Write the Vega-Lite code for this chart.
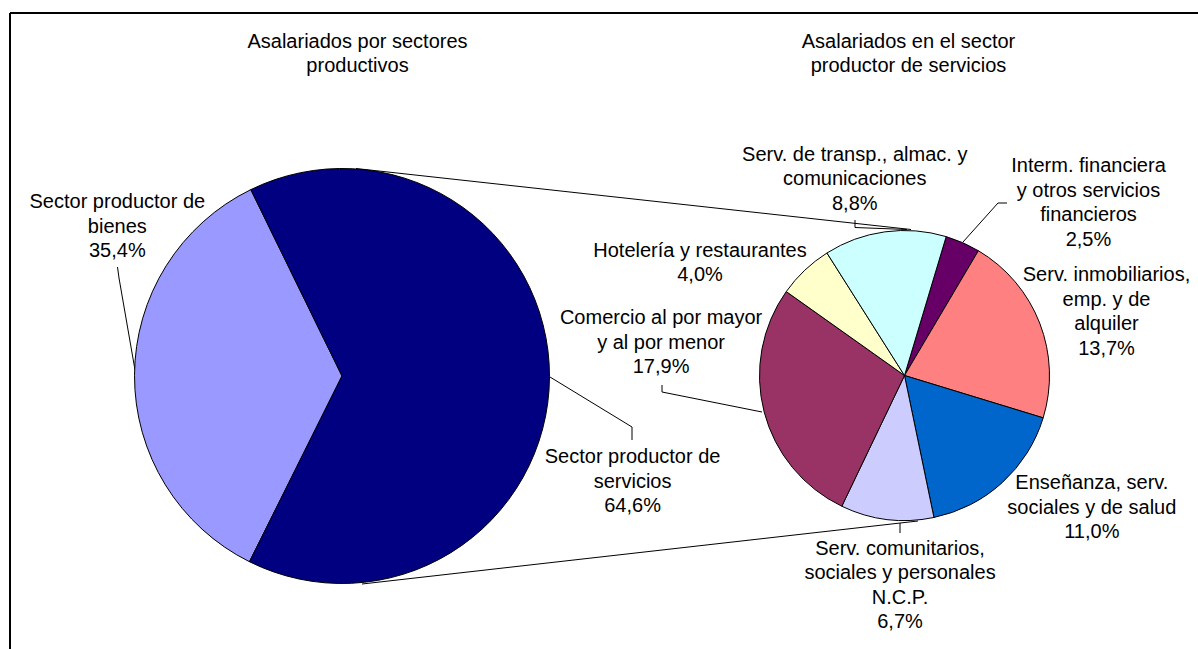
{
  "$schema": "https://vega.github.io/schema/vega-lite/v6.json",
  "width": 1188,
  "height": 636,
  "autosize": {"type": "none"},
  "padding": {"left": 10, "top": 13, "right": 0, "bottom": 0},
  "background": "#ffffff",
  "config": {
    "view": {"stroke": null},
    "text": {"font": "Liberation Sans", "fontSize": 20, "lineHeight": 24.5, "lineBreak": "\n", "baseline": "middle", "align": "center", "color": "#000000"},
    "arc": {"stroke": "#000000", "strokeWidth": 1},
    "rule": {"color": "#000000", "strokeWidth": 1}
  },
  "datasets": {
    "sectores": [
      {"categoria": "Sector productor de bienes", "etiqueta": "Sector productor de\nbienes\n35,4%", "pct": 35.4, "orden": 1},
      {"categoria": "Sector productor de servicios", "etiqueta": "Sector productor de\nservicios\n64,6%", "pct": 64.6, "orden": 2}
    ],
    "servicios": [
      {"categoria": "Interm. financiera y otros servicios financieros", "etiqueta": "Interm. financiera\ny otros servicios\nfinancieros\n2,5%", "pct": 2.5, "orden": 1},
      {"categoria": "Serv. inmobiliarios, emp. y de alquiler", "etiqueta": "Serv. inmobiliarios,\nemp. y de\nalquiler\n13,7%", "pct": 13.7, "orden": 2},
      {"categoria": "Enseñanza, serv. sociales y de salud", "etiqueta": "Enseñanza, serv.\nsociales y de salud\n11,0%", "pct": 11.0, "orden": 3},
      {"categoria": "Serv. comunitarios, sociales y personales N.C.P.", "etiqueta": "Serv. comunitarios,\nsociales y personales\nN.C.P.\n6,7%", "pct": 6.7, "orden": 4},
      {"categoria": "Comercio al por mayor y al por menor", "etiqueta": "Comercio al por mayor\ny al por menor\n17,9%", "pct": 17.9, "orden": 5},
      {"categoria": "Hotelería y restaurantes", "etiqueta": "Hotelería y restaurantes\n4,0%", "pct": 4.0, "orden": 6},
      {"categoria": "Serv. de transp., almac. y comunicaciones", "etiqueta": "Serv. de transp., almac. y\ncomunicaciones\n8,8%", "pct": 8.8, "orden": 7}
    ]
  },
  "resolve": {"scale": {"theta": "independent"}},
  "layer": [
    {
      "data": {"values": [{}]},
      "mark": {"type": "rule", "strokeWidth": 2},
      "encoding": {"x": {"datum": 0, "type": "quantitative", "scale": {"domain": [0, 1188], "nice": false, "zero": false}, "axis": null}}
    },
    {
      "data": {"values": [{}]},
      "mark": {"type": "rule", "strokeWidth": 2},
      "encoding": {"y": {"datum": 0, "type": "quantitative", "scale": {"domain": [0, 636], "nice": false, "zero": false, "reverse": true}, "axis": null}}
    },
    {"data": {"values": [{}]}, "mark": "rule", "encoding": {"x": {"datum": 346, "type": "quantitative", "scale": {"domain": [0, 1188], "nice": false, "zero": false}, "axis": null}, "y": {"datum": 155.5, "type": "quantitative", "scale": {"domain": [0, 636], "nice": false, "zero": false, "reverse": true}, "axis": null}, "x2": {"datum": 901}, "y2": {"datum": 216.5}}},
    {"data": {"values": [{}]}, "mark": "rule", "encoding": {"x": {"datum": 352, "type": "quantitative", "scale": {"domain": [0, 1188], "nice": false, "zero": false}, "axis": null}, "y": {"datum": 571, "type": "quantitative", "scale": {"domain": [0, 636], "nice": false, "zero": false, "reverse": true}, "axis": null}, "x2": {"datum": 908}, "y2": {"datum": 508}}},
    {"data": {"values": [{}]}, "mark": "rule", "encoding": {"x": {"datum": 107.5, "type": "quantitative", "scale": {"domain": [0, 1188], "nice": false, "zero": false}, "axis": null}, "y": {"datum": 254, "type": "quantitative", "scale": {"domain": [0, 636], "nice": false, "zero": false, "reverse": true}, "axis": null}, "x2": {"datum": 109}, "y2": {"datum": 265}}},
    {"data": {"values": [{}]}, "mark": "rule", "encoding": {"x": {"datum": 109, "type": "quantitative", "scale": {"domain": [0, 1188], "nice": false, "zero": false}, "axis": null}, "y": {"datum": 265, "type": "quantitative", "scale": {"domain": [0, 636], "nice": false, "zero": false, "reverse": true}, "axis": null}, "x2": {"datum": 125}, "y2": {"datum": 357}}},
    {"data": {"values": [{}]}, "mark": "rule", "encoding": {"x": {"datum": 540, "type": "quantitative", "scale": {"domain": [0, 1188], "nice": false, "zero": false}, "axis": null}, "y": {"datum": 364, "type": "quantitative", "scale": {"domain": [0, 636], "nice": false, "zero": false, "reverse": true}, "axis": null}, "x2": {"datum": 622}, "y2": {"datum": 414}}},
    {"data": {"values": [{}]}, "mark": "rule", "encoding": {"x": {"datum": 622, "type": "quantitative", "scale": {"domain": [0, 1188], "nice": false, "zero": false}, "axis": null}, "y": {"datum": 414, "type": "quantitative", "scale": {"domain": [0, 636], "nice": false, "zero": false, "reverse": true}, "axis": null}, "x2": {"datum": 622}, "y2": {"datum": 427}}},
    {"data": {"values": [{}]}, "mark": "rule", "encoding": {"x": {"datum": 652, "type": "quantitative", "scale": {"domain": [0, 1188], "nice": false, "zero": false}, "axis": null}, "y": {"datum": 372, "type": "quantitative", "scale": {"domain": [0, 636], "nice": false, "zero": false, "reverse": true}, "axis": null}, "x2": {"datum": 652}, "y2": {"datum": 379}}},
    {"data": {"values": [{}]}, "mark": "rule", "encoding": {"x": {"datum": 652, "type": "quantitative", "scale": {"domain": [0, 1188], "nice": false, "zero": false}, "axis": null}, "y": {"datum": 379, "type": "quantitative", "scale": {"domain": [0, 636], "nice": false, "zero": false, "reverse": true}, "axis": null}, "x2": {"datum": 752}, "y2": {"datum": 399}}},
    {"data": {"values": [{}]}, "mark": "rule", "encoding": {"x": {"datum": 845, "type": "quantitative", "scale": {"domain": [0, 1188], "nice": false, "zero": false}, "axis": null}, "y": {"datum": 207, "type": "quantitative", "scale": {"domain": [0, 636], "nice": false, "zero": false, "reverse": true}, "axis": null}, "x2": {"datum": 845}, "y2": {"datum": 214.5}}},
    {"data": {"values": [{}]}, "mark": "rule", "encoding": {"x": {"datum": 845, "type": "quantitative", "scale": {"domain": [0, 1188], "nice": false, "zero": false}, "axis": null}, "y": {"datum": 214.5, "type": "quantitative", "scale": {"domain": [0, 636], "nice": false, "zero": false, "reverse": true}, "axis": null}, "x2": {"datum": 897}, "y2": {"datum": 216.5}}},
    {"data": {"values": [{}]}, "mark": "rule", "encoding": {"x": {"datum": 997, "type": "quantitative", "scale": {"domain": [0, 1188], "nice": false, "zero": false}, "axis": null}, "y": {"datum": 190, "type": "quantitative", "scale": {"domain": [0, 636], "nice": false, "zero": false, "reverse": true}, "axis": null}, "x2": {"datum": 988}, "y2": {"datum": 190}}},
    {"data": {"values": [{}]}, "mark": "rule", "encoding": {"x": {"datum": 988, "type": "quantitative", "scale": {"domain": [0, 1188], "nice": false, "zero": false}, "axis": null}, "y": {"datum": 190, "type": "quantitative", "scale": {"domain": [0, 636], "nice": false, "zero": false, "reverse": true}, "axis": null}, "x2": {"datum": 953}, "y2": {"datum": 229}}},
    {"data": {"values": [{}]}, "mark": "rule", "encoding": {"x": {"datum": 890, "type": "quantitative", "scale": {"domain": [0, 1188], "nice": false, "zero": false}, "axis": null}, "y": {"datum": 510, "type": "quantitative", "scale": {"domain": [0, 636], "nice": false, "zero": false, "reverse": true}, "axis": null}, "x2": {"datum": 890}, "y2": {"datum": 520}}},
    {
      "data": {"values": [{}]},
      "mark": {"type": "text", "dy": -12.25},
      "encoding": {
        "x": {"datum": 347.5, "type": "quantitative", "scale": {"domain": [0, 1188], "nice": false, "zero": false}, "axis": null},
        "y": {"datum": 41, "type": "quantitative", "scale": {"domain": [0, 636], "nice": false, "zero": false, "reverse": true}, "axis": null},
        "text": {"value": "Asalariados por sectores\nproductivos"}
      }
    },
    {
      "data": {"values": [{}]},
      "mark": {"type": "text", "dy": -12.25},
      "encoding": {
        "x": {"datum": 898.5, "type": "quantitative", "scale": {"domain": [0, 1188], "nice": false, "zero": false}, "axis": null},
        "y": {"datum": 41, "type": "quantitative", "scale": {"domain": [0, 636], "nice": false, "zero": false, "reverse": true}, "axis": null},
        "text": {"value": "Asalariados en el sector\nproductor de servicios"}
      }
    },
    {
      "data": {"name": "sectores"},
      "encoding": {
        "x": {"datum": 332, "type": "quantitative", "scale": {"domain": [0, 1188], "nice": false, "zero": false}, "axis": null},
        "y": {"datum": 363, "type": "quantitative", "scale": {"domain": [0, 636], "nice": false, "zero": false, "reverse": true}, "axis": null},
        "theta": {"field": "pct", "type": "quantitative", "stack": true, "scale": {"domain": [0, 100], "range": [3.604, 9.887]}},
        "order": {"field": "orden", "type": "quantitative"}
      },
      "layer": [
        {
          "mark": {"type": "arc", "radius": 207.5},
          "encoding": {
            "color": {"field": "categoria", "type": "nominal", "legend": null, "scale": {
              "domain": ["Sector productor de bienes", "Sector productor de servicios", "Interm. financiera y otros servicios financieros", "Serv. inmobiliarios, emp. y de alquiler", "Enseñanza, serv. sociales y de salud", "Serv. comunitarios, sociales y personales N.C.P.", "Comercio al por mayor y al por menor", "Hotelería y restaurantes", "Serv. de transp., almac. y comunicaciones"],
              "range": ["#9999FF", "#000080", "#660066", "#FF8080", "#0066CC", "#CCCCFF", "#993366", "#FFFFCC", "#CCFFFF"]}}
          }
        },
        {
          "mark": {"type": "text", "radius": 269.6, "thetaOffset": 0.582, "dy": -24.5},
          "encoding": {"text": {"condition": {"test": "datum.orden === 1", "field": "etiqueta", "type": "nominal"}, "value": ""}}
        },
        {
          "mark": {"type": "text", "radius": 309.3, "thetaOffset": 0.346, "dy": -24.5},
          "encoding": {"text": {"condition": {"test": "datum.orden === 2", "field": "etiqueta", "type": "nominal"}, "value": ""}}
        }
      ]
    },
    {
      "data": {"name": "servicios"},
      "encoding": {
        "x": {"datum": 894.5, "type": "quantitative", "scale": {"domain": [0, 1188], "nice": false, "zero": false}, "axis": null},
        "y": {"datum": 362.5, "type": "quantitative", "scale": {"domain": [0, 636], "nice": false, "zero": false, "reverse": true}, "axis": null},
        "theta": {"field": "pct", "type": "quantitative", "stack": true, "scale": {"domain": [0, 64.6], "range": [0.2915, 6.5747]}},
        "order": {"field": "orden", "type": "quantitative"}
      },
      "layer": [
        {
          "mark": {"type": "arc", "radius": 145},
          "encoding": {
            "color": {"field": "categoria", "type": "nominal", "legend": null, "scale": {
              "domain": ["Sector productor de bienes", "Sector productor de servicios", "Interm. financiera y otros servicios financieros", "Serv. inmobiliarios, emp. y de alquiler", "Enseñanza, serv. sociales y de salud", "Serv. comunitarios, sociales y personales N.C.P.", "Comercio al por mayor y al por menor", "Hotelería y restaurantes", "Serv. de transp., almac. y comunicaciones"],
              "range": ["#9999FF", "#000080", "#660066", "#FF8080", "#0066CC", "#CCCCFF", "#993366", "#FFFFCC", "#CCFFFF"]}}
          }
        },
        {
          "mark": {"type": "text", "radius": 252.1, "thetaOffset": 0.405, "dy": -36.75},
          "encoding": {"text": {"condition": {"test": "datum.orden === 1", "field": "etiqueta", "type": "nominal"}, "value": ""}}
        },
        {
          "mark": {"type": "text", "radius": 211.7, "thetaOffset": 0.066, "dy": -36.75},
          "encoding": {"text": {"condition": {"test": "datum.orden === 2", "field": "etiqueta", "type": "nominal"}, "value": ""}}
        },
        {
          "mark": {"type": "text", "radius": 229.4, "thetaOffset": -0.216, "dy": -24.5},
          "encoding": {"text": {"condition": {"test": "datum.orden === 3", "field": "etiqueta", "type": "nominal"}, "value": ""}}
        },
        {
          "mark": {"type": "text", "radius": 210.2, "thetaOffset": -0.1, "dy": -36.75},
          "encoding": {"text": {"condition": {"test": "datum.orden === 4", "field": "etiqueta", "type": "nominal"}, "value": ""}}
        },
        {
          "mark": {"type": "text", "radius": 245.6, "thetaOffset": 0.386, "dy": -24.5},
          "encoding": {"text": {"condition": {"test": "datum.orden === 5", "field": "etiqueta", "type": "nominal"}, "value": ""}}
        },
        {
          "mark": {"type": "text", "radius": 233.4, "thetaOffset": -0.309, "dy": -12.25},
          "encoding": {"text": {"condition": {"test": "datum.orden === 6", "field": "etiqueta", "type": "nominal"}, "value": ""}}
        },
        {
          "mark": {"type": "text", "radius": 202.3, "thetaOffset": -0.112, "dy": -24.5},
          "encoding": {"text": {"condition": {"test": "datum.orden === 7", "field": "etiqueta", "type": "nominal"}, "value": ""}}
        }
      ]
    }
  ]
}
